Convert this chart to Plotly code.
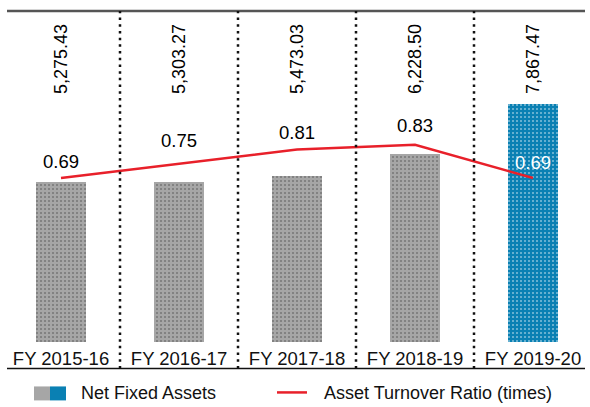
import plotly.graph_objects as go

categories = ["FY 2015-16", "FY 2016-17", "FY 2017-18", "FY 2018-19", "FY 2019-20"]
net_fixed_assets = [5275.43, 5303.27, 5473.03, 6228.50, 7867.47]
asset_labels = ["5,275.43", "5,303.27", "5,473.03", "6,228.50", "7,867.47"]
turnover_ratio = [0.69, 0.75, 0.81, 0.83, 0.69]
bar_colors = ["#a6a6a6", "#a6a6a6", "#a6a6a6", "#a6a6a6", "#0a80b3"]
ratio_label_colors = ["black", "black", "black", "black", "white"]
ratio_label_shift = [17, 23, 17, 19, 16]

W, H = 590, 407
L, R, T, B = 7, 5, 11, 64.5
pw, ph = W - L - R, H - T - B

def px(x):
    return (x - L) / pw

def py(y):
    return (H - B - y) / ph

FONT = "Liberation Sans, Arial, Helvetica, sans-serif"

fig = go.Figure()
fig.add_trace(go.Bar(
    x=categories, y=net_fixed_assets, width=0.42,
    marker=dict(color=bar_colors, line=dict(width=0),
                pattern=dict(shape=".", size=4, solidity=0.2,
                             fgcolor=["#bababa"] * 4 + ["#1a90c3"], fillmode="overlay")),
    showlegend=False, hoverinfo="skip"))
fig.add_trace(go.Scatter(
    x=categories, y=turnover_ratio, yaxis="y2", mode="lines",
    line=dict(color="#e8202a", width=2.5), showlegend=False, hoverinfo="skip"))

ann = []
for c, t in zip(categories, asset_labels):
    ann.append(dict(x=c, y=py(22), xref="x", yref="paper", text=t, showarrow=False,
                    textangle=-90, yanchor="top", xanchor="center",
                    font=dict(family=FONT, size=18, color="black")))
for c, v, col, s in zip(categories, turnover_ratio, ratio_label_colors, ratio_label_shift):
    ann.append(dict(x=c, y=v, xref="x", yref="y2", text=f"{v:.2f}", showarrow=False,
                    yshift=s, font=dict(family=FONT, size=18.5, color=col)))
# legend
ann.append(dict(x=px(79), y=py(394), xref="paper", yref="paper", text="Net Fixed Assets",
                showarrow=False, xanchor="left", yanchor="middle",
                font=dict(family=FONT, size=18, color="#111")))
ann.append(dict(x=px(322), y=py(394), xref="paper", yref="paper", text="Asset Turnover Ratio (times)",
                showarrow=False, xanchor="left", yanchor="middle",
                font=dict(family=FONT, size=18, color="#111")))

shapes = []
shapes.append(dict(type="line", xref="paper", yref="paper", x0=0, x1=1, y0=1, y1=1,
                   line=dict(color="#555555", width=2.5)))
shapes.append(dict(type="line", xref="paper", yref="paper", x0=px(7), x1=px(585), y0=py(369), y1=py(369),
                   line=dict(color="#111111", width=1.5)))
for i in range(len(categories) - 1):
    shapes.append(dict(type="line", xref="x", yref="paper", x0=i + 0.5, x1=i + 0.5,
                       y0=py(369), y1=1, line=dict(color="#111111", width=2.5, dash="2.5px,4.2px")))
shapes.append(dict(type="rect", xref="paper", yref="paper", x0=px(34), x1=px(50), y0=py(401), y1=py(387),
                   fillcolor="#a6a6a6", line=dict(width=0)))
shapes.append(dict(type="rect", xref="paper", yref="paper", x0=px(50), x1=px(66), y0=py(401), y1=py(387),
                   fillcolor="#0a80b3", line=dict(width=0)))
shapes.append(dict(type="line", xref="paper", yref="paper", x0=px(277), x1=px(307), y0=py(393), y1=py(393),
                   line=dict(color="#e8202a", width=2.5)))

fig.update_layout(
    width=W, height=H, margin=dict(l=L, r=R, t=T, b=B, pad=0),
    paper_bgcolor="white", plot_bgcolor="white",
    font=dict(family=FONT, size=18, color="#111"),
    xaxis=dict(type="category", range=[-0.4576, 4.4407], showgrid=False, zeroline=False,
               showline=False, ticks="", ticklabelstandoff=3, tickfont=dict(size=18.5, color="#111")),
    yaxis=dict(range=[0, 10937], visible=False, showgrid=False),
    yaxis2=dict(range=[0, 1.393], overlaying="y", visible=False, showgrid=False),
    annotations=ann, shapes=shapes, bargap=0,
)
fig.write_html("out.html", config={"displayModeBar": False},
               post_script="document.body.style.margin='0';document.body.style.overflow='hidden';")
